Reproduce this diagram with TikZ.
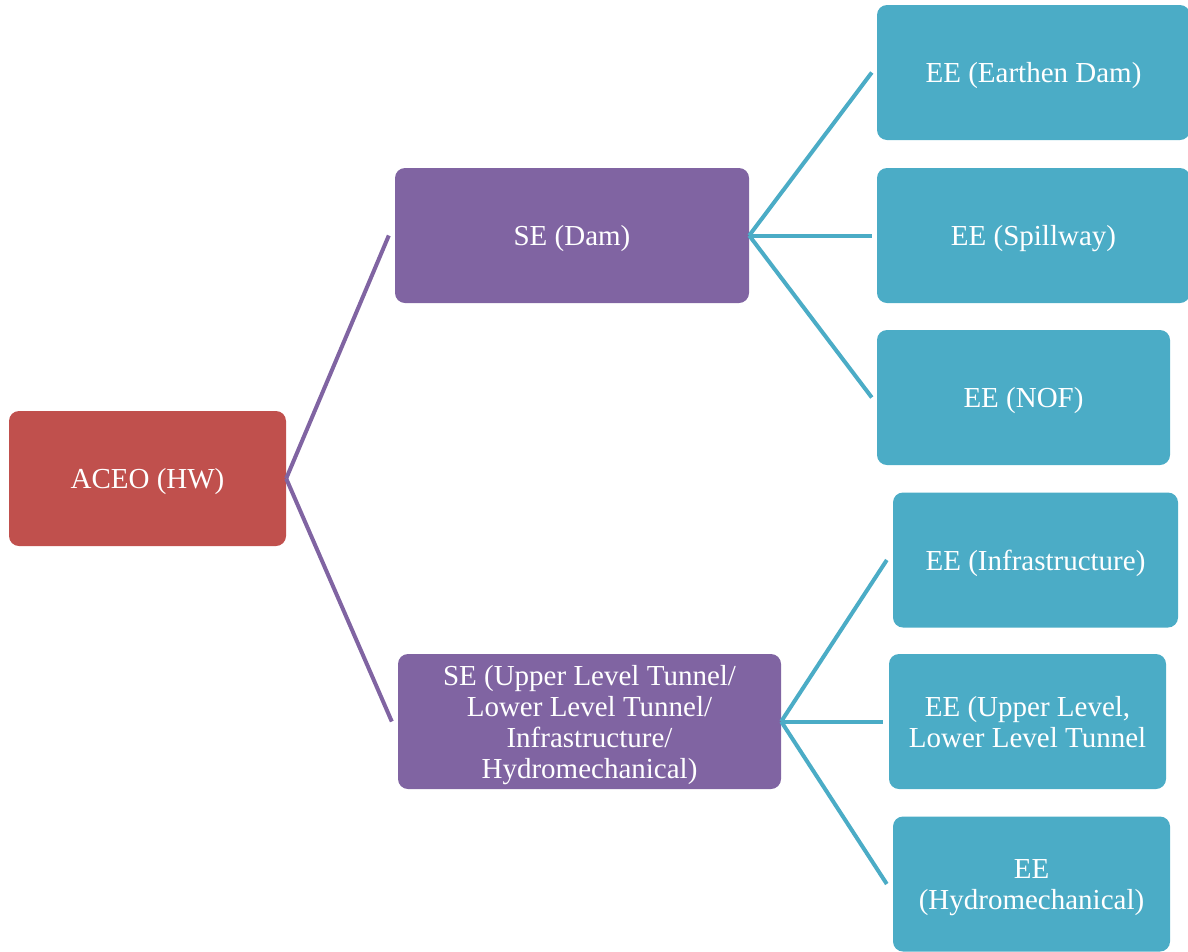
\documentclass[tikz,border=0pt]{standalone}
\usepackage{fontspec}
\setmainfont{Liberation Serif}
\usetikzlibrary{positioning}
\definecolor{boxred}{HTML}{C0504D}
\definecolor{boxpurple}{HTML}{8064A2}
\definecolor{boxteal}{HTML}{4BACC6}
\begin{document}
\begin{tikzpicture}[x=1pt,y=-1pt]

\tikzset{box/.style = {shape=rectangle,rounded corners=10pt,text=white,align=center,inner sep=0pt,text depth=0pt,font=\fontsize{29}{31}\selectfont}}
\tikzset{head/.style = {box,fill=boxred,minimum width=277pt,minimum height=135pt}}
\tikzset{sebox/.style = {box,fill=boxpurple,minimum height=135pt}}
\tikzset{eebox/.style = {box,fill=boxteal,minimum height=135pt}}
\tikzset{seedge/.style = {draw=boxpurple,line width=4pt}}
\tikzset{eeedge/.style = {draw=boxteal,line width=4pt}}
\useasboundingbox (0,0) rectangle (1188,951);
%boxes
\node[head] (aceo) at (147.5,478.5) {ACEO (HW)};
\node[sebox, minimum width=354pt] (sedam) at (572,235.5) {SE (Dam)};
\node[sebox, minimum width=383pt] (setun) at (589.5,721.5) {SE (Upper Level Tunnel/\\Lower Level Tunnel/\\Infrastructure/\\Hydromechanical)};
\node[eebox, minimum width=313pt] (eeearth) at (1033.5,72.5) {EE (Earthen Dam)};
\node[eebox, minimum width=313pt] (eespill) at (1033.5,235.5) {EE (Spillway)};
\node[eebox, minimum width=293pt] (eenof) at (1023.5,397.5) {EE (NOF)};
\node[eebox, minimum width=285pt] (eeinfra) at (1035.5,560) {EE (Infrastructure)};
\node[eebox, minimum width=277pt] (eeupper) at (1027.5,721.5) {EE (Upper Level,\\Lower Level Tunnel};
\node[eebox, minimum width=277pt] (eehydro) at (1031.5,884) {EE\\(Hydromechanical)};
%edges
\draw [seedge] (aceo.east) -- ([xshift=-6pt]sedam.west);
\draw [seedge] (aceo.east) -- ([xshift=-6pt]setun.west);
\draw [eeedge] (sedam.east) -- ([xshift=-5pt]eeearth.west);
\draw [eeedge] (sedam.east) -- ([xshift=-5pt]eespill.west);
\draw [eeedge] (sedam.east) -- ([xshift=-5pt]eenof.west);
\draw [eeedge] (setun.east) -- ([xshift=-6pt]eeinfra.west);
\draw [eeedge] (setun.east) -- ([xshift=-6pt]eeupper.west);
\draw [eeedge] (setun.east) -- ([xshift=-6pt]eehydro.west);

\end{tikzpicture}
\end{document}
